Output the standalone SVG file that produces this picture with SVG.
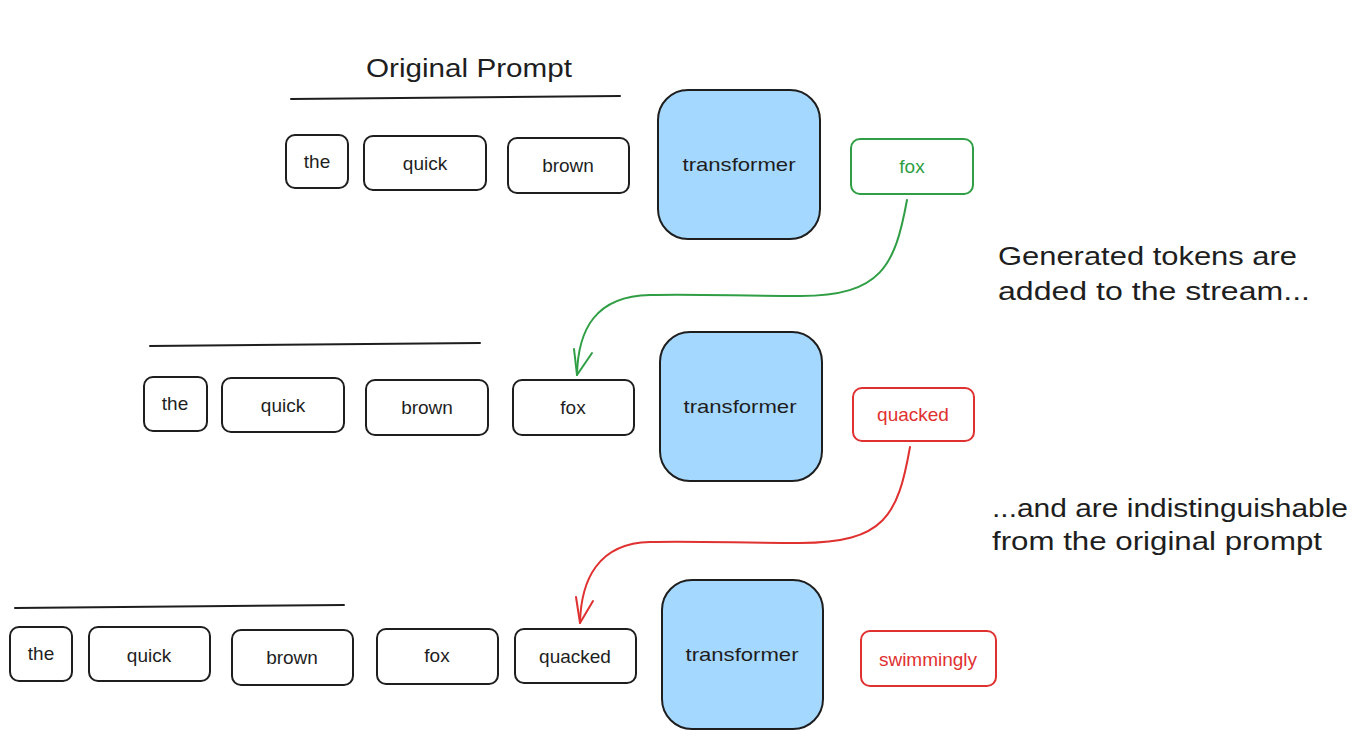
<svg xmlns="http://www.w3.org/2000/svg" width="1359" height="739" viewBox="0 0 1359 739">
<style>
.box{fill:#ffffff;stroke:#1e1e1e;stroke-width:2}
.tf{fill:#a5d8ff;stroke:#1e1e1e;stroke-width:2}
.g{fill:#ffffff;stroke:#2f9e44;stroke-width:2}
.r{fill:#ffffff;stroke:#e03131;stroke-width:2}
.t{font-family:"Liberation Sans",Arial,sans-serif;font-size:19px;fill:#1e1e1e;text-anchor:middle;dominant-baseline:central}
.tg{fill:#2f9e44}
.tr{fill:#e03131}
.big{font-family:"Liberation Sans",Arial,sans-serif;font-size:26px;fill:#1e1e1e}
.line{stroke:#1e1e1e;stroke-width:2;fill:none;stroke-linecap:round}
.ag{stroke:#2f9e44;stroke-width:2;fill:none;stroke-linecap:round;stroke-linejoin:round}
.ar{stroke:#e03131;stroke-width:2;fill:none;stroke-linecap:round;stroke-linejoin:round}
</style>
<rect width="1359" height="739" fill="#ffffff"/>
<g id="title">
<text class="big" x="469" y="77" text-anchor="middle" textLength="206" lengthAdjust="spacingAndGlyphs">Original Prompt</text>
</g>
<g id="lines">
<path class="line" d="M291 99 L620 96"/>
<path class="line" d="M150 346 L480 343"/>
<path class="line" d="M15 608 L344 605"/>
</g>
<g id="row1">
<g id="r1-the"><rect class="box" x="286" y="135" width="62" height="53" rx="9"/><text class="t" x="317" y="161">the</text></g>
<g id="r1-quick"><rect class="box" x="364" y="136" width="122" height="54" rx="9"/><text class="t" x="425" y="163">quick</text></g>
<g id="r1-brown"><rect class="box" x="508" y="138" width="121" height="55" rx="9"/><text class="t" x="568" y="165">brown</text></g>
<g id="r1-transformer"><rect class="tf" x="658" y="90" width="162" height="149" rx="30"/><text class="t" x="739" y="164" textLength="113" lengthAdjust="spacingAndGlyphs">transformer</text></g>
<g id="r1-fox"><rect class="g" x="851" y="139" width="122" height="55" rx="9"/><text class="t tg" x="912" y="166">fox</text></g>
</g>
<g id="row2">
<g id="r2-the"><rect class="box" x="144" y="377" width="63" height="54" rx="9"/><text class="t" x="175" y="403">the</text></g>
<g id="r2-quick"><rect class="box" x="222" y="378" width="122" height="54" rx="9"/><text class="t" x="283" y="405">quick</text></g>
<g id="r2-brown"><rect class="box" x="366" y="380" width="122" height="55" rx="9"/><text class="t" x="427" y="407">brown</text></g>
<g id="r2-fox"><rect class="box" x="513" y="380" width="121" height="55" rx="9"/><text class="t" x="573" y="407">fox</text></g>
<g id="r2-transformer"><rect class="tf" x="660" y="332" width="162" height="149" rx="30"/><text class="t" x="740" y="406" textLength="113" lengthAdjust="spacingAndGlyphs">transformer</text></g>
<g id="r2-quacked"><rect class="r" x="853" y="388" width="121" height="53" rx="9"/><text class="t tr" x="913" y="414">quacked</text></g>
</g>
<g id="row3">
<g id="r3-the"><rect class="box" x="10" y="627" width="62" height="54" rx="9"/><text class="t" x="41" y="653">the</text></g>
<g id="r3-quick"><rect class="box" x="89" y="627" width="121" height="54" rx="9"/><text class="t" x="149" y="655">quick</text></g>
<g id="r3-brown"><rect class="box" x="232" y="630" width="121" height="55" rx="9"/><text class="t" x="292" y="657">brown</text></g>
<g id="r3-fox"><rect class="box" x="377" y="629" width="121" height="55" rx="9"/><text class="t" x="437" y="655">fox</text></g>
<g id="r3-quacked"><rect class="box" x="515" y="629" width="121" height="54" rx="9"/><text class="t" x="575" y="656">quacked</text></g>
<g id="r3-transformer"><rect class="tf" x="662" y="580" width="161" height="149" rx="30"/><text class="t" x="742" y="654" textLength="113" lengthAdjust="spacingAndGlyphs">transformer</text></g>
<g id="r3-swimmingly"><rect class="r" x="861" y="631" width="135" height="55" rx="9"/><text class="t tr" x="928" y="659">swimmingly</text></g>
</g>
<g id="notes">
<text class="big" x="998" y="265" textLength="299" lengthAdjust="spacingAndGlyphs">Generated tokens are</text>
<text class="big" x="998" y="300" textLength="312" lengthAdjust="spacingAndGlyphs">added to the stream...</text>
<text class="big" x="992" y="517" textLength="356" lengthAdjust="spacingAndGlyphs">...and are indistinguishable</text>
<text class="big" x="992" y="550" textLength="330" lengthAdjust="spacingAndGlyphs">from the original prompt</text>
</g>
<g id="connectors">
<path class="ag" d="M907 200 C895 265 882 296 800 296 C740 296 700 294 650 295 C595 296 578 330 577 375"/>
<path class="ag" d="M574 349 L577 375 L592 353"/>
<path class="ar" d="M910 447 C898 515 885 543 800 543 C740 543 700 541 650 542 C598 543 581 580 580 623"/>
<path class="ar" d="M576 597 L580 623 L593 601"/>
</g>
</svg>
